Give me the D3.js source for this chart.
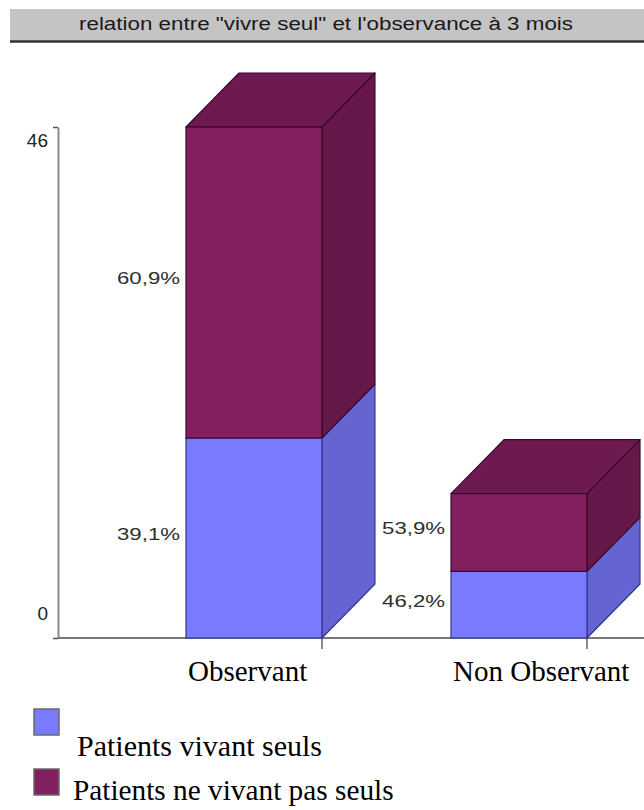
<!DOCTYPE html>
<html>
<head>
<meta charset="utf-8">
<script src="https://cdn.jsdelivr.net/npm/d3@7"></script>
<style>
  body { margin: 0; background: #fff; }
  svg { display: block; }
</style>
</head>
<body>
<svg id="chart"></svg>
<script>
const title = 'relation entre "vivre seul" et l\'observance à 3 mois';
const categories = ['Observant', 'Non Observant'];
const seriesNames = ['Patients vivant seuls', 'Patients ne vivant pas seuls'];
const aloneCounts = [18, 6];
const notAloneCounts = [28, 7];
const aloneLabels = ['39,1%', '46,2%'];
const notAloneLabels = ['60,9%', '53,9%'];
const yTicks = [0, 46];

const width = 644;
const height = 810;
const depthX = 53;
const depthY = 54;

const colors = {
  alone: { front: '#7a7aff', side: '#6464d2', top: '#7070e8', stroke: '#34348c' },
  notAlone: { front: '#821f5f', side: '#67184b', top: '#6e1a51', stroke: '#3a0828' }
};

const svg = d3.select('#chart')
  .attr('width', width)
  .attr('height', height);

// title bar
svg.append('rect')
  .attr('x', 10).attr('y', 9)
  .attr('width', width - 10).attr('height', 32)
  .attr('fill', '#c4c4c4');
svg.append('line')
  .attr('x1', 10).attr('x2', width)
  .attr('y1', 41.5).attr('y2', 41.5)
  .attr('stroke', '#333').attr('stroke-width', 2.5);
svg.append('text')
  .attr('x', 79).attr('y', 30)
  .attr('textLength', 494)
  .attr('lengthAdjust', 'spacingAndGlyphs')
  .style('font-family', 'Arial, "Liberation Sans", sans-serif')
  .style('font-size', '18px')
  .attr('fill', '#1a1a1a')
  .text(title);

const x = d3.scaleBand()
  .domain(categories)
  .range([58, 715])
  .paddingInner(0.487)
  .paddingOuter(0.483);

const y = d3.scaleLinear()
  .domain([0, 46])
  .range([638, 127]);

const table = categories.map((c, i) => ({
  category: c,
  alone: aloneCounts[i],
  notAlone: notAloneCounts[i]
}));

const stacked = d3.stack().keys(['alone', 'notAlone'])(table);
const labels = { alone: aloneLabels, notAlone: notAloneLabels };

// axes
const yAxis = svg.append('g')
  .attr('transform', 'translate(58,0)')
  .call(d3.axisLeft(y).tickValues(yTicks).tickSizeOuter(0).tickSizeInner(5));
yAxis.select('.domain').attr('stroke', '#8a8a8a').attr('stroke-width', 2);
yAxis.selectAll('.tick line').attr('stroke', '#555').attr('stroke-width', 1.5);
yAxis.selectAll('.tick text')
  .attr('x', -10)
  .attr('dy', d => d === 0 ? '-1.0em' : '1.05em')
  .style('font-family', 'Arial, "Liberation Sans", sans-serif')
  .style('font-size', '19px')
  .attr('fill', '#222');

svg.append('line')
  .attr('x1', 58).attr('x2', width)
  .attr('y1', y(0)).attr('y2', y(0))
  .attr('stroke', '#777').attr('stroke-width', 2);

svg.selectAll('.xtick')
  .data(categories)
  .enter()
  .append('line')
  .attr('class', 'xtick')
  .attr('x1', d => x(d) + x.bandwidth())
  .attr('x2', d => x(d) + x.bandwidth())
  .attr('y1', y(0)).attr('y2', y(0) + 11)
  .attr('stroke', '#666').attr('stroke-width', 1.5);

// 3D stacked bars
const bars = svg.append('g');
stacked.forEach((layer, li) => {
  const c = colors[layer.key];
  const isTop = li === stacked.length - 1;
  layer.forEach((seg, i) => {
    const cat = categories[i];
    const x0 = x(cat);
    const x1 = x0 + x.bandwidth();
    const yb = y(seg[0]);
    const yt = y(seg[1]);

    bars.append('polygon')
      .attr('points', [[x1, yt], [x1 + depthX, yt - depthY], [x1 + depthX, yb - depthY], [x1, yb]].join(' '))
      .attr('fill', c.side)
      .attr('stroke', c.stroke).attr('stroke-width', 1.2)
      .attr('stroke-linejoin', 'round');

    if (isTop) {
      bars.append('polygon')
        .attr('points', [[x0, yt], [x0 + depthX, yt - depthY], [x1 + depthX, yt - depthY], [x1, yt]].join(' '))
        .attr('fill', c.top)
        .attr('stroke', c.stroke).attr('stroke-width', 1.2)
        .attr('stroke-linejoin', 'round');
    }

    bars.append('rect')
      .attr('x', x0).attr('y', yt)
      .attr('width', x.bandwidth()).attr('height', yb - yt)
      .attr('fill', c.front)
      .attr('stroke', c.stroke).attr('stroke-width', 1.2);

    bars.append('text')
      .attr('x', x0 - 6)
      .attr('y', (yt + yb) / 2 - 4)
      .attr('dy', '0.35em')
      .attr('text-anchor', 'end')
      .attr('textLength', 63)
      .attr('lengthAdjust', 'spacingAndGlyphs')
      .style('font-family', 'Arial, "Liberation Sans", sans-serif')
      .style('font-size', '17px')
      .attr('fill', '#2e2e2e')
      .text(labels[layer.key][i]);
  });
});

// category labels
svg.selectAll('.cat')
  .data(categories)
  .enter()
  .append('text')
  .attr('class', 'cat')
  .attr('x', d => x(d) + 2)
  .attr('y', 681)
  .style('font-family', '"Liberation Serif", "Times New Roman", serif')
  .style('font-size', '29px')
  .attr('fill', '#000')
  .text(d => d);

// legend
const legendItems = [
  { name: seriesNames[0], color: colors.alone.front, sy: 709, tx: 77, ty: 756, size: 30 },
  { name: seriesNames[1], color: colors.notAlone.front, sy: 769, tx: 73, ty: 800, size: 29.3 }
];
const legend = svg.selectAll('.legend')
  .data(legendItems)
  .enter()
  .append('g')
  .attr('class', 'legend');
legend.append('rect')
  .attr('x', 34).attr('y', d => d.sy)
  .attr('width', 25).attr('height', 26)
  .attr('fill', d => d.color)
  .attr('stroke', '#6a6a6a').attr('stroke-width', 1.5);
legend.append('text')
  .attr('x', d => d.tx)
  .attr('y', d => d.ty)
  .style('font-family', '"Liberation Serif", "Times New Roman", serif')
  .style('font-size', d => d.size + 'px')
  .attr('fill', '#000')
  .text(d => d.name);
</script>
</body>
</html>
